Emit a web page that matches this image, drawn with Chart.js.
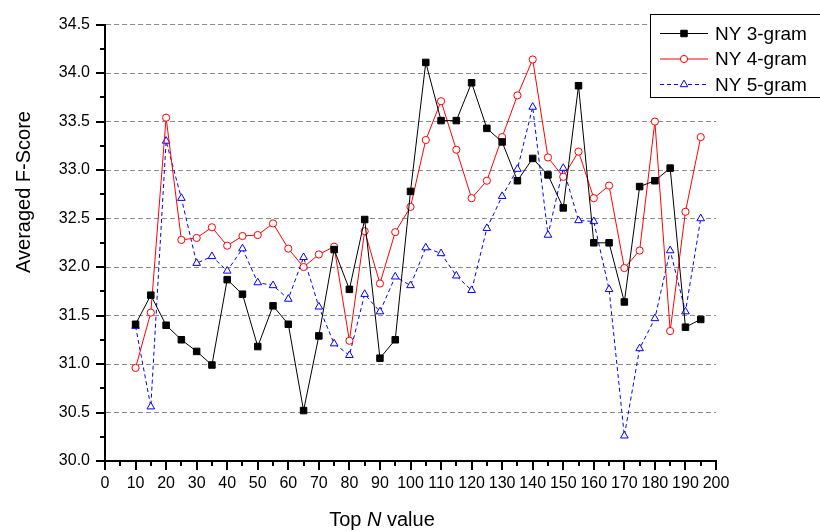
<!DOCTYPE html>
<html>
<head>
<meta charset="utf-8">
<script src="https://cdn.jsdelivr.net/npm/chart.js@4.4.1/dist/chart.umd.min.js"></script>
<style>
  html, body { margin: 0; padding: 0; background: #fff; }
  #wrap { width: 820px; height: 531px; }
</style>
</head>
<body>
<div id="wrap"><canvas id="fscore" width="820" height="531"></canvas></div>
<script>
// Top N values (x axis)
const topN = [10, 15, 20, 25, 30, 35, 40, 45, 50, 55, 60, 65, 70, 75, 80, 85, 90, 95, 100,
  105, 110, 115, 120, 125, 130, 135, 140, 145, 150, 155, 160, 165, 170, 175, 180, 185, 190, 195];

// averaged F-score per series
const ny3gram = [31.41, 31.71, 31.40, 31.25, 31.13, 30.99, 31.87, 31.72, 31.18, 31.60,
  31.41, 30.52, 31.29, 32.18, 31.77, 32.49, 31.06, 31.25, 32.78, 34.11,
  33.51, 33.51, 33.90, 33.43, 33.29, 32.89, 33.12, 32.95, 32.61, 33.87,
  32.25, 32.25, 31.64, 32.83, 32.89, 33.02, 31.38, 31.46];
const ny4gram = [30.96, 31.53, 33.54, 32.28, 32.30, 32.41, 32.22, 32.32, 32.33, 32.45,
  32.19, 32.00, 32.13, 32.21, 31.24, 32.37, 31.83, 32.36, 32.62, 33.31,
  33.71, 33.21, 32.71, 32.89, 33.34, 33.77, 34.14, 33.13, 32.93, 33.19,
  32.71, 32.84, 31.99, 32.17, 33.50, 31.34, 32.57, 33.34];
const ny5gram = [31.39, 30.56, 33.30, 32.71, 32.04, 32.11, 31.96, 32.19, 31.84, 31.81,
  31.67, 32.10, 31.59, 31.21, 31.09, 31.72, 31.54, 31.90, 31.81, 32.20,
  32.14, 31.91, 31.76, 32.40, 32.73, 33.01, 33.65, 32.33, 33.02, 32.48,
  32.47, 31.77, 30.26, 31.16, 31.47, 32.17, 31.54, 32.50];

const seriesNames = ['NY 3-gram', 'NY 4-gram', 'NY 5-gram'];
const xMin = 0, xMax = 200, xStep = 5;
const yMin = 30, yMax = 34.5, yStep = 0.25;

const FONT = "'Liberation Sans', Arial, sans-serif";

function pts(vals) {
  return vals.map((v, i) => ({ x: topN[i], y: v }));
}

// tick marks: long at labelled ticks, short in between
const tickMarks = {
  id: 'tickMarks',
  afterDraw(chart) {
    const { ctx, chartArea, scales: { x, y } } = chart;
    ctx.save();
    ctx.strokeStyle = '#000';
    ctx.lineWidth = 2;
    ctx.beginPath();
    x.ticks.forEach(t => {
      const px = Math.round(x.getPixelForValue(t.value));
      const len = t.value % 10 === 0 ? 9 : 5;
      ctx.moveTo(px, chartArea.bottom);
      ctx.lineTo(px, chartArea.bottom + len);
    });
    y.ticks.forEach(t => {
      const py = Math.round(y.getPixelForValue(t.value));
      const len = t.value % 0.5 === 0 ? 9 : 5;
      ctx.moveTo(chartArea.left, py);
      ctx.lineTo(chartArea.left - len, py);
    });
    ctx.stroke();
    ctx.restore();
  }
};

// axis titles (x title has an italic N)
const axisTitles = {
  id: 'axisTitles',
  afterDraw(chart) {
    const ctx = chart.ctx;
    ctx.save();
    ctx.fillStyle = '#000';
    ctx.textBaseline = 'alphabetic';
    const normal = '20px ' + FONT, italic = 'italic 20px ' + FONT;
    const parts = [['Top ', normal], ['N', italic], [' value', normal]];
    let w = 0;
    parts.forEach(p => { ctx.font = p[1]; w += ctx.measureText(p[0]).width; });
    let cx = 382 - w / 2;
    parts.forEach(p => {
      ctx.font = p[1];
      ctx.textAlign = 'left';
      ctx.fillText(p[0], cx, 526);
      cx += ctx.measureText(p[0]).width;
    });
    ctx.translate(30, 192);
    ctx.rotate(-Math.PI / 2);
    ctx.font = normal;
    ctx.textAlign = 'center';
    ctx.fillText('Averaged F-Score', 0, 0);
    ctx.restore();
  }
};

// boxed legend in the top right corner
const boxLegend = {
  id: 'boxLegend',
  afterDraw(chart) {
    const ctx = chart.ctx;
    const rows = [33.5, 59, 84.5];
    ctx.save();
    ctx.fillStyle = '#fff';
    ctx.fillRect(651, 15, 180, 82);
    ctx.strokeStyle = '#000';
    ctx.lineWidth = 1;
    ctx.strokeRect(650.5, 14.5, 200, 83);
    chart.data.datasets.forEach((ds, i) => {
      const yy = rows[i];
      ctx.save();
      ctx.strokeStyle = ds.borderColor;
      ctx.lineWidth = ds.borderWidth;
      ctx.setLineDash(ds.borderDash || []);
      ctx.beginPath();
      ctx.moveTo(660, yy);
      ctx.lineTo(708, yy);
      ctx.stroke();
      ctx.restore();

      ctx.fillStyle = ds.pointBackgroundColor;
      ctx.strokeStyle = ds.pointBorderColor;
      ctx.lineWidth = 1;
      Chart.helpers.drawPoint(ctx, { pointStyle: ds.pointStyle, radius: ds.pointRadius, borderWidth: 1, rotation: 0 }, 684, yy);

      ctx.fillStyle = '#000';
      ctx.font = '19px ' + FONT;
      ctx.textAlign = 'left';
      ctx.textBaseline = 'middle';
      ctx.fillText(ds.label, 715, yy + 1);
    });
    ctx.restore();
  }
};

new Chart(document.getElementById('fscore'), {
  type: 'line',
  data: {
    datasets: [
      {
        label: seriesNames[0],
        data: pts(ny3gram),
        borderColor: '#000',
        borderWidth: 1,
        pointStyle: 'rect',
        pointRadius: 4.6,
        pointBackgroundColor: '#000',
        pointBorderColor: '#000',
        pointBorderWidth: 1,
        tension: 0
      },
      {
        label: seriesNames[1],
        data: pts(ny4gram),
        borderColor: '#ff0000',
        borderWidth: 1,
        pointStyle: 'circle',
        pointRadius: 3.6,
        pointBackgroundColor: '#fff',
        pointBorderColor: '#ff0000',
        pointBorderWidth: 1,
        tension: 0
      },
      {
        label: seriesNames[2],
        data: pts(ny5gram),
        borderColor: '#0000ff',
        borderWidth: 1,
        borderDash: [4, 3],
        pointStyle: 'triangle',
        pointRadius: 4.4,
        pointBackgroundColor: '#fff',
        pointBorderColor: '#0000ff',
        pointBorderWidth: 1,
        tension: 0
      }
    ]
  },
  options: {
    responsive: false,
    animation: false,
    events: [],
    layout: { padding: { top: 18, right: 104, left: 0, bottom: 0 } },
    plugins: {
      legend: { display: false },
      tooltip: { enabled: false }
    },
    scales: {
      x: {
        type: 'linear',
        min: xMin,
        max: xMax,
        afterFit(s) { s.height = 70; },
        grid: { display: false, drawTicks: false },
        border: { display: true, color: '#000', width: 2 },
        ticks: {
          stepSize: xStep,
          autoSkip: false,
          maxRotation: 0,
          padding: 13,
          color: '#000',
          font: { family: FONT, size: 16 },
          callback: v => (v % 10 === 0 ? String(v) : '')
        }
      },
      y: {
        min: yMin,
        max: yMax,
        afterFit(s) { s.width = 105; },
        grid: {
          drawTicks: false,
          lineWidth: 1,
          color: c => (c.tick && c.tick.value % 0.5 === 0 && c.tick.value > yMin ? '#8c8c8c' : 'rgba(0,0,0,0)')
        },
        border: { display: true, color: '#000', width: 2, dash: [5, 3] },
        ticks: {
          stepSize: yStep,
          autoSkip: false,
          padding: 15,
          color: '#000',
          font: { family: FONT, size: 16 },
          callback: v => (v % 0.5 === 0 ? v.toFixed(1) : '')
        }
      }
    }
  },
  plugins: [tickMarks, axisTitles, boxLegend]
});
</script>
</body>
</html>
